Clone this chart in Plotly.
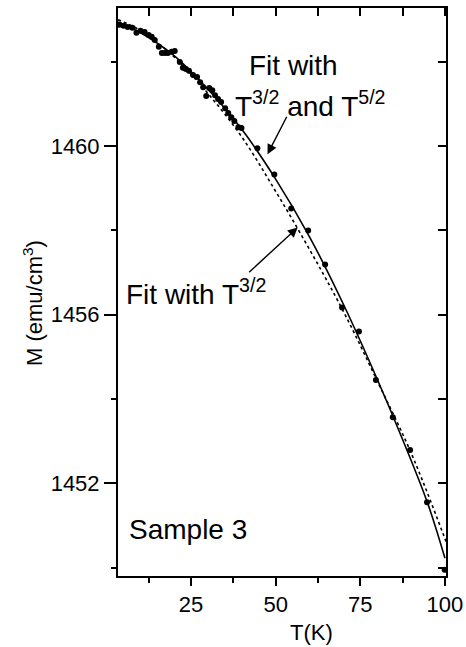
import plotly.graph_objects as go

# Measured data points (T in K, M in emu/cm^3)
T_data = [3.9, 5.1, 6.3, 7.7, 8.9, 10.1, 11.3, 12.5, 13.4, 14.3, 15.5, 16.4, 17.3, 18.2,
          19.3, 20.2, 21.7, 22.6, 23.5, 24.4, 25.6, 26.8, 27.7, 28.6, 29.5, 30.4, 31.3,
          32.1, 33.0, 33.9, 35.1, 36.0, 36.9, 37.8, 39.0, 39.9,
          44.6, 49.6, 54.6, 59.6, 64.6, 69.6, 74.6, 79.6, 84.6, 89.7, 94.7, 99.9]
M_data = [1462.88, 1462.86, 1462.83, 1462.81, 1462.69, 1462.74, 1462.71, 1462.64, 1462.60,
          1462.52, 1462.36, 1462.21, 1462.21, 1462.21, 1462.24, 1462.26, 1462.00, 1461.86,
          1461.83, 1461.79, 1461.69, 1461.64, 1461.52, 1461.40, 1461.19, 1461.38, 1461.33,
          1461.21, 1461.12, 1461.05, 1460.90, 1460.79, 1460.69, 1460.60, 1460.45, 1460.43,
          1459.95, 1459.33, 1458.52, 1458.00, 1457.19, 1456.17, 1455.60, 1454.45, 1453.57,
          1452.79, 1451.55, 1449.95]

# Fit with T^3/2 and T^5/2 (solid)
T_fit2 = [3.45, 10, 20, 30, 40, 50, 60, 70, 80, 88, 95, 100]
M_fit2 = [1462.95, 1462.70, 1462.15, 1461.35, 1460.40, 1459.22, 1457.85, 1456.25, 1454.47,
          1452.94, 1451.50, 1450.22]

# Fit with T^3/2 (dotted)
T_fit1 = [3.45, 10, 20, 30, 40, 50, 60, 70, 80, 90, 100.3]
M_fit1 = [1463.0, 1462.75, 1462.12, 1461.25, 1460.22, 1458.93, 1457.55, 1456.08, 1454.43,
          1452.72, 1450.62]

x_ticks = [25, 50, 75, 100]
y_ticks = [1452, 1456, 1460]
x_range = [3.45, 100.3]
y_range = [1449.80, 1463.28]

FONT = "Liberation Sans, Arial, sans-serif"

fig = go.Figure()
fig.add_trace(go.Scatter(x=T_fit1, y=M_fit1, mode="lines", line_shape="spline",
                         line=dict(color="black", width=1.6, dash="dot"), showlegend=False))
fig.add_trace(go.Scatter(x=T_fit2, y=M_fit2, mode="lines", line_shape="spline",
                         line=dict(color="black", width=1.6), showlegend=False))
fig.add_trace(go.Scatter(x=T_data, y=M_data, mode="markers",
                         marker=dict(color="black", size=6), showlegend=False))
# invisible trace to anchor the mirrored axes
fig.add_trace(go.Scatter(x=[x_range[0]], y=[y_range[0]], xaxis="x2", yaxis="y2",
                         mode="markers", marker=dict(opacity=0), showlegend=False,
                         hoverinfo="skip"))

common = dict(showline=True, linewidth=2, linecolor="black", showgrid=False, zeroline=False,
              automargin=False, tickcolor="black")

fig.update_layout(
    width=466, height=647,
    margin=dict(l=118, r=20, t=8, b=71),
    paper_bgcolor="white", plot_bgcolor="white",
    font=dict(family=FONT, color="black", size=22),
    xaxis=dict(range=x_range, tickvals=x_ticks, ticks="outside", ticklen=8, tickwidth=2,
               tickfont=dict(size=22),
               minor=dict(tick0=0, dtick=12.5, ticks="outside", ticklen=5, tickwidth=2,
                          tickcolor="black", showgrid=False), **common),
    yaxis=dict(range=y_range, tickvals=y_ticks, ticks="outside", ticklen=12, tickwidth=2,
               tickfont=dict(size=22),
               minor=dict(tick0=1450, dtick=2, ticks="outside", ticklen=5, tickwidth=2,
                          tickcolor="black", showgrid=False), **common),
    xaxis2=dict(range=x_range, overlaying="x", side="top", anchor="y2", tick0=0, dtick=12.5,
                ticks="inside", ticklen=8, tickwidth=2, showticklabels=False, **common),
    yaxis2=dict(range=y_range, overlaying="y", side="right", anchor="x2", tick0=1450, dtick=2,
                ticks="inside", ticklen=8, tickwidth=2, showticklabels=False, **common),
)

ann = []
# axis titles
ann.append(dict(text="T(K)", xref="paper", yref="paper", x=(311 - 118) / 328, y=-(632 - 576) / 568,
                showarrow=False, font=dict(size=22), xanchor="center", yanchor="middle"))
ann.append(dict(text="M (emu/cm<sup>3</sup>)", xref="paper", yref="paper", x=-(118 - 33) / 328,
                y=1 - (303 - 8) / 568, textangle=-90, showarrow=False, font=dict(size=22),
                xanchor="center", yanchor="middle"))
# labels
ann.append(dict(text="Fit with", x=55.4, y=1461.92, showarrow=False, font=dict(size=28),
                xanchor="center", yanchor="middle"))
ann.append(dict(text="T<sup>3/2</sup> and T<sup>5/2</sup>", x=37.4, y=1460.52, showarrow=False,
                font=dict(size=28), xanchor="left", yanchor="bottom"))
ann.append(dict(text="Fit with T<sup>3/2</sup>", x=5.3, y=1456.07, showarrow=False,
                font=dict(size=28), xanchor="left", yanchor="bottom"))
ann.append(dict(text="Sample 3", x=6.2, y=1450.9, showarrow=False, font=dict(size=28),
                xanchor="left", yanchor="middle"))
# arrows
ann.append(dict(text="", x=47.6, y=1459.81, ax=20, ay=-39, showarrow=True, arrowhead=2,
                arrowsize=1.4, arrowwidth=1.4, arrowcolor="black"))
ann.append(dict(text="", x=56.5, y=1458.07, ax=-50, ay=46, showarrow=True, arrowhead=2,
                arrowsize=1.4, arrowwidth=1.4, arrowcolor="black"))
fig.update_layout(annotations=ann)

fig.write_html("out.html")
